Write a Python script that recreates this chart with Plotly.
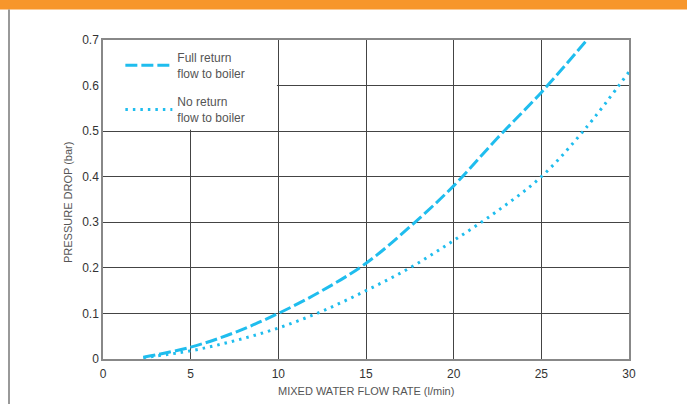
import plotly.graph_objects as go

flow_full = [2.3, 5, 7.5, 10, 12.5, 15, 17.5, 20, 22.5, 25, 27.6]
drop_full = [0.004, 0.026, 0.058, 0.100, 0.150, 0.210, 0.290, 0.380, 0.485, 0.585, 0.70]
flow_none = [2.3, 5, 7.5, 10, 12.5, 15, 17.5, 20, 22.5, 25, 27.5, 30]
drop_none = [0.003, 0.018, 0.040, 0.068, 0.105, 0.150, 0.200, 0.260, 0.325, 0.400, 0.505, 0.63]
x_ticks = [0, 5, 10, 15, 20, 25, 30]
y_ticks = [0, 0.1, 0.2, 0.3, 0.4, 0.5, 0.6, 0.7]
y_labels = ["0", "0.1", "0.2", "0.3", "0.4", "0.5", "0.6", "0.7"]

blue = "#1FBDEE"
font = "Liberation Sans, Arial, sans-serif"

fig = go.Figure()
fig.add_trace(go.Scatter(x=flow_full, y=drop_full, mode="lines",
                         name="Full return<br>flow to boiler", legendgroup="a",
                         line=dict(color=blue, width=3, dash="12px,4px", shape="spline")))
fig.add_trace(go.Scatter(x=flow_none, y=drop_none, mode="lines",
                         name="No return<br>flow to boiler", legendgroup="b",
                         line=dict(color=blue, width=3, dash="2.5px,5px", shape="spline")))

L, R, T, B = 103, 58, 40, 45
W, H = 687, 404
pw, ph = W - L - R, H - T - B

def px(xp):
    return (xp - L) / pw

def py(yp):
    return (H - B - yp) / ph

shapes = [
    # white area behind legend
    dict(type="rect", xref="x", yref="y", x0=0, x1=9.92, y0=0.503, y1=0.7,
         fillcolor="white", line=dict(width=0), layer="between"),
    # orange header bar
    dict(type="rect", xref="paper", yref="paper", x0=px(0), x1=px(W), y0=py(9.5), y1=py(0),
         fillcolor="#F7962B", line=dict(width=0), layer="above"),
    # left frame line
    dict(type="line", xref="paper", yref="paper", x0=px(9), x1=px(9), y0=py(9.5), y1=py(W),
         line=dict(color="#777777", width=1.5)),
]

annotations = [
    dict(text="MIXED WATER FLOW RATE (l/min)", xref="paper", yref="paper",
         x=px(366), y=py(391), xanchor="center", yanchor="middle", showarrow=False,
         font=dict(size=11, color="#555555")),
    dict(text="PRESSURE DROP (bar)", xref="paper", yref="paper",
         x=px(68), y=py(203), xanchor="center", yanchor="middle", showarrow=False,
         textangle=-90, font=dict(size=11, color="#555555")),
]

fig.update_layout(
    width=W, height=H,
    margin=dict(l=L, r=R, t=T, b=B, autoexpand=False),
    paper_bgcolor="white", plot_bgcolor="white",
    font=dict(family=font, size=12, color="#444444"),
    showlegend=True,
    legend=dict(x=0.033, y=0.99, xanchor="left", yanchor="top",
                bgcolor="rgba(0,0,0,0)", font=dict(size=12, color="#555555"),
                tracegroupgap=10, itemwidth=47),
    shapes=shapes,
    annotations=annotations,
    xaxis=dict(range=[0, 30], tickvals=x_ticks, showgrid=True, gridcolor="#444444", gridwidth=1,
               showline=True, linecolor="#888888", linewidth=1.5, mirror=True, zeroline=False,
               ticks="", tickfont=dict(size=12, color="#333333"), automargin=False,
               ticklabelstandoff=3),
    yaxis=dict(range=[0, 0.7], tickvals=y_ticks, ticktext=y_labels, showgrid=True, gridcolor="#444444",
               gridwidth=1, showline=True, linecolor="#888888", linewidth=1.5, mirror=True, zeroline=False,
               ticks="", tickfont=dict(size=12, color="#333333"), automargin=False),
)

fig.write_html("out.html", config={"displayModeBar": False},
               post_script="document.body.style.margin='0px';")
